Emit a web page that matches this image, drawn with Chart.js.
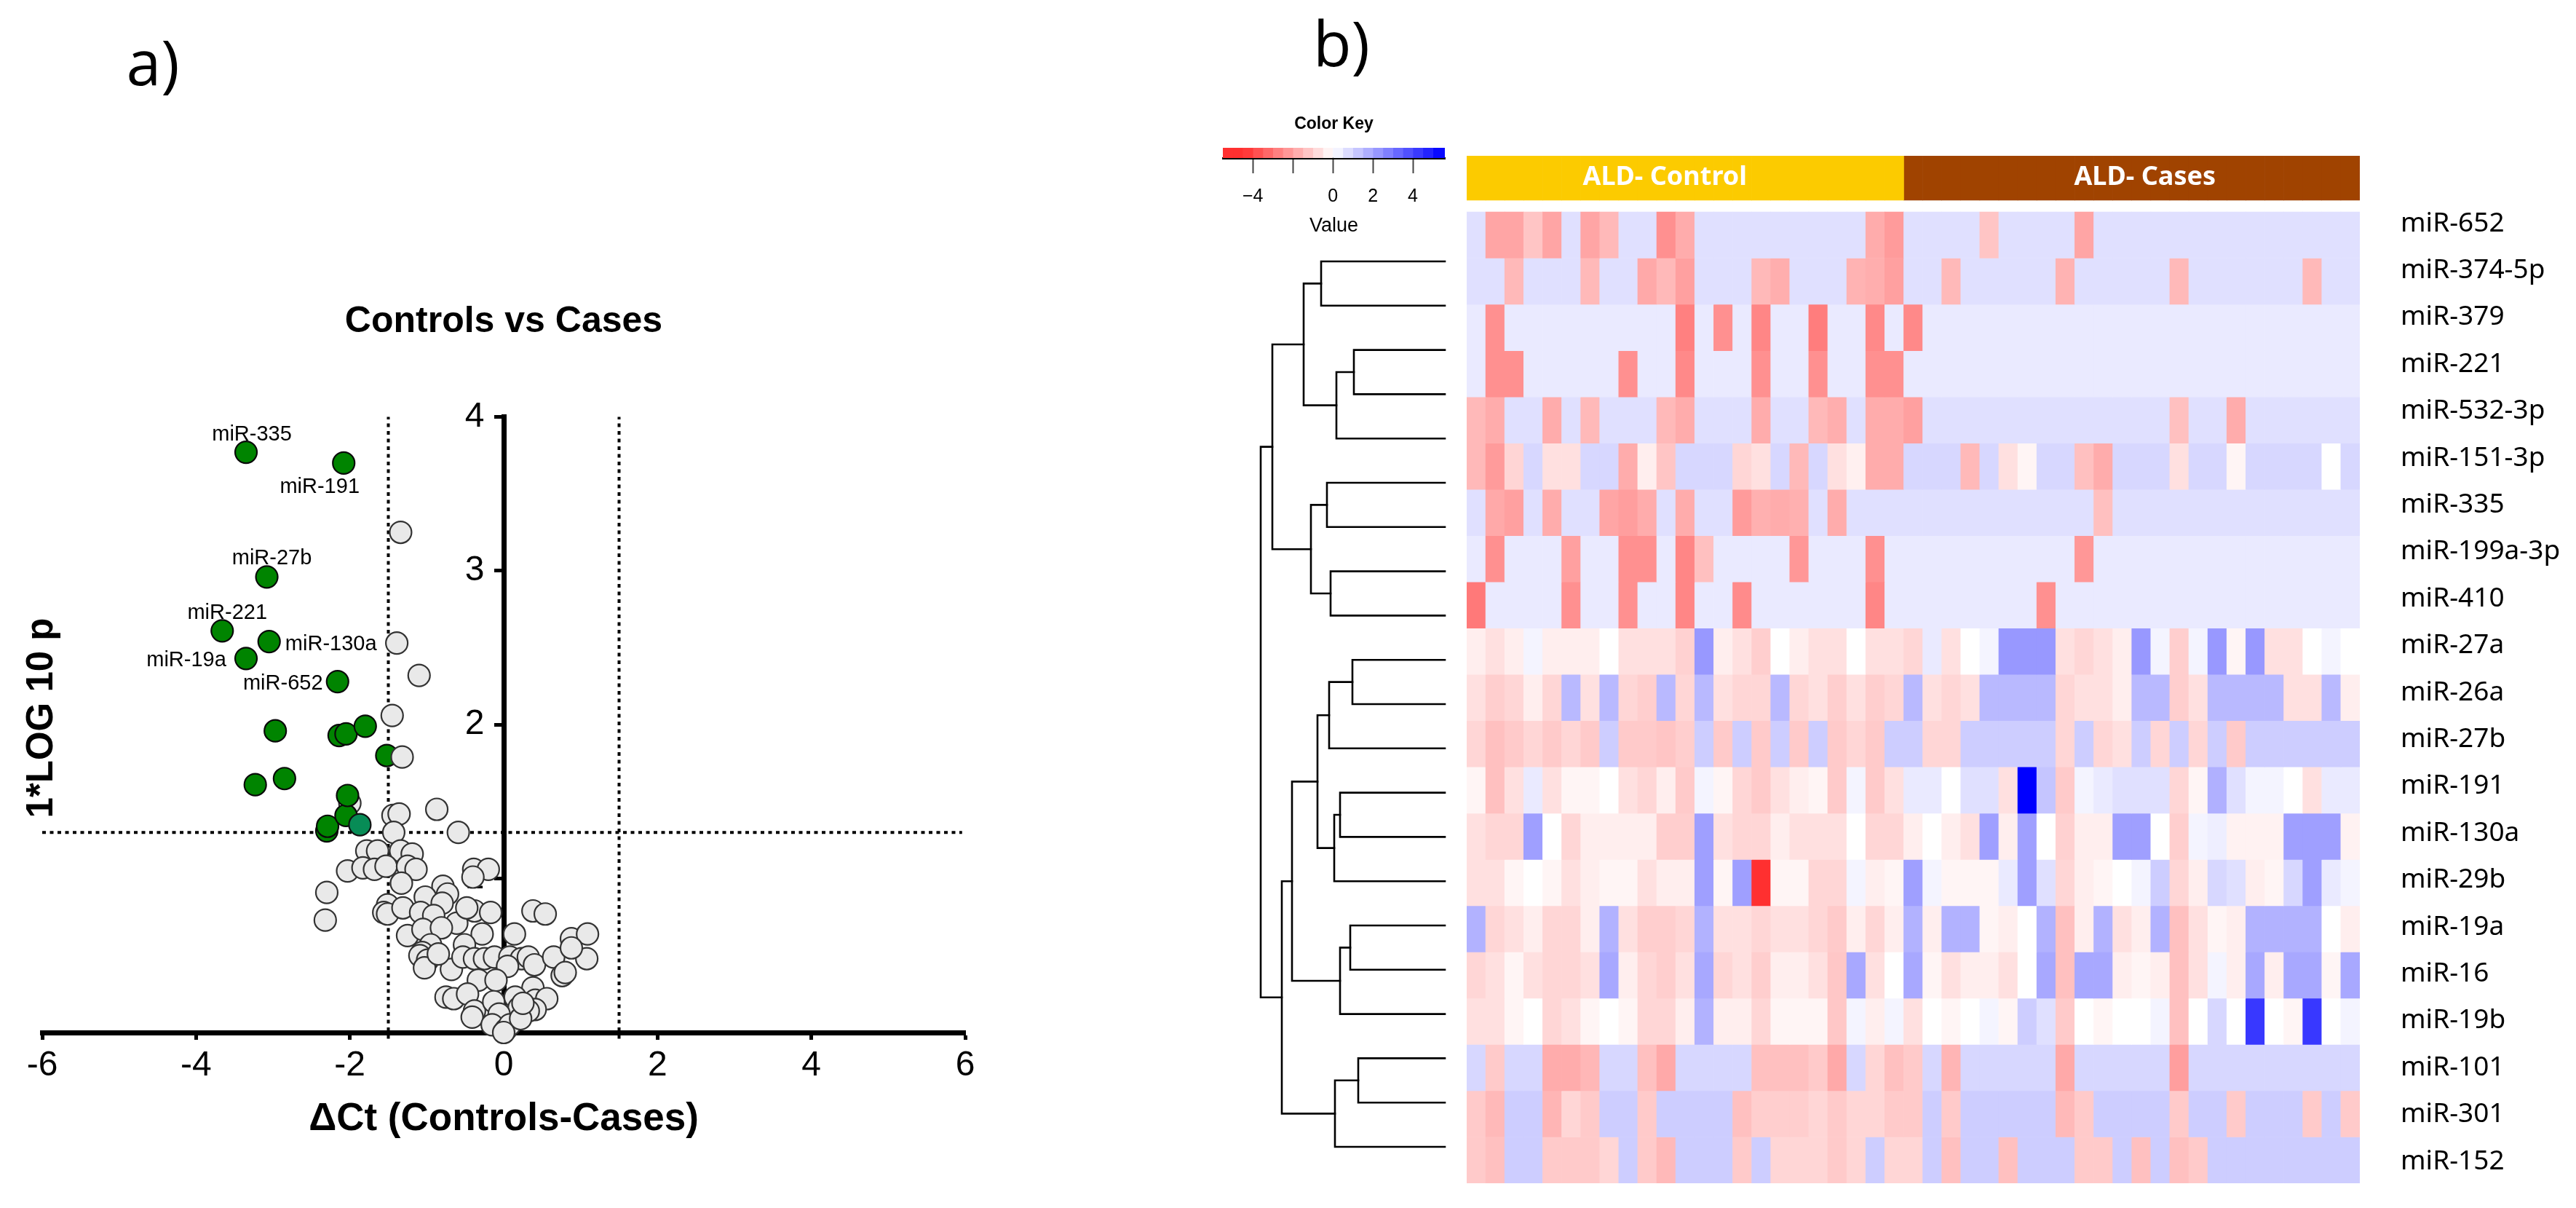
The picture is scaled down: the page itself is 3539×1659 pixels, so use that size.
<!DOCTYPE html>
<html>
<head>
<meta charset="utf-8">
<script src="https://cdn.jsdelivr.net/npm/chart.js@4"></script>
<style>
html,body{margin:0;padding:0;background:#fff;width:3539px;height:1659px;overflow:hidden}
canvas{position:absolute}
.t{position:absolute;color:#000;white-space:nowrap;transform:translate(-50%,-50%)}
</style>
</head>
<body>
<div class="t" style="left:210px;top:83px;font:86px 'Open Sans'">a)</div>
<div class="t" style="left:1843px;top:57px;font:86px 'Open Sans'">b)</div>
<div class="t" style="left:54px;top:986px;font:bold 51px 'Liberation Sans';transform:translate(-50%,-50%) rotate(-90deg)">1*LOG 10 p</div>
<canvas id="volcano" width="1500" height="1659" style="left:0;top:0"></canvas>
<canvas id="key" width="385" height="190" style="left:1640px;top:150px"></canvas>
<canvas id="dendro" width="345" height="1256" style="left:1660px;top:339px"></canvas>
<canvas id="heat" width="1524" height="1471" style="left:2015px;top:184px"></canvas>
<script>
/* ---------- panel a: values ---------- */
const grayX = [-1.34,-1.39,-1.10,-1.45,-2.0,-1.44,-1.36,-.87,-.59,-1.43,-1.78,-1.64,-1.34,-1.19,-2.03,-1.83,-1.68,-1.53,-1.25,-1.14,-1.33,-.39,-.2,-.4,-2.30,-2.32,-.79,-.73,-1.02,-.80,-1.51,-1.56,-1.51,-1.31,-1.08,-.91,-.61,-.38,-.17,-.48,-.28,.14,.38,.54,-1.25,-1.05,-.81,-.95,-.51,-1.06,-1.09,-.99,-1.03,-.68,-.85,-.53,-.38,-.25,-.12,.08,.23,.32,.40,.05,.65,.88,1.09,1.08,.76,.8,.88,-.33,-.10,.38,-.75,-.65,-.47,-.38,-.41,-.13,.15,.41,.56,.2,.41,.32,-.06,-.15,0.03,.08,.22,.25,0];
const grayY = [3.25,2.53,2.32,2.06,1.49,1.41,1.42,1.45,1.30,1.30,1.18,1.18,1.18,1.16,1.05,1.07,1.06,1.08,1.08,1.06,.97,1.06,1.06,1.01,.91,.73,.95,.90,.88,.84,.83,.78,.77,.81,.78,.76,.71,.79,.78,.81,.64,.64,.79,.77,.63,.67,.68,.57,.57,.52,.50,.47,.42,.41,.51,.49,.48,.48,.49,.49,.48,.49,.44,.43,.49,.61,.64,.48,.37,.39,.55,.34,.34,.29,.23,.22,.25,.14,.10,.20,.23,.21,.22,.16,.15,.14,.12,.05,.02,.05,.09,.19,0];
const greenX = [-3.35,-2.08,-3.08,-3.66,-3.05,-3.35,-2.16,-2.97,-1.80,-2.05,-2.14,-1.52,-2.85,-3.23,-2.03,-2.05,-2.29,-2.30];
const greenY = [3.77,3.70,2.96,2.61,2.54,2.43,2.28,1.96,1.99,1.94,1.93,1.80,1.65,1.61,1.54,1.41,1.34,1.31];
const tealX = [-1.87];
const tealY = [1.35];
const overX = [-1.32];
const overY = [1.79];
const labelNames = ['miR-335','miR-191','miR-27b','miR-221','miR-130a','miR-19a','miR-652'];
const thresholdP = 1.3;
const thresholdCt = 1.5;

/* ---------- panel b: rows of the heat map, top to bottom ---------- */
const rowNames = ['miR-652','miR-374-5p','miR-379','miR-221','miR-532-3p','miR-151-3p','miR-335','miR-199a-3p','miR-410','miR-27a','miR-26a','miR-27b','miR-191','miR-130a','miR-29b','miR-19a','miR-16','miR-19b','miR-101','miR-301','miR-152'];
const r652 = [.67,-1.95,-1.95,-1.25,-1.95,.67,-1.95,-1.5,.67,.67,-2.4,-1.8,.67,.67,.67,.67,.67,.67,.67,.67,.67,-1.8,-2.15,.67,.67,.67,.67,-1.25,.67,.67,.67,.67,-1.95,.67,.67,.67,.67,.67,.67,.67,.67,.67,.67,.67,.67,.67,.67];
const r374 = [.67,.67,-1.5,.67,.67,.67,-1.5,.67,.67,-1.85,-1.5,-2.05,.67,.67,.67,-1.5,-1.75,.67,.67,.67,-1.65,-1.75,-2.05,.67,.67,-1.5,.67,.67,.67,.67,.67,-1.65,.67,.67,.67,.67,.67,-1.5,.67,.67,.67,.67,.67,.67,-1.5,.67,.67];
const r379 = [.45,-2.4,.45,.45,.45,.45,.45,.45,.45,.45,.45,-2.75,.45,-2.4,.45,-2.6,.45,.45,-2.8,.45,.45,-2.55,.45,-2.55,.45,.45,.45,.45,.45,.45,.45,.45,.45,.45,.45,.45,.45,.45,.45,.45,.45,.45,.45,.45,.45,.45,.45];
const r221 = [.45,-2.4,-2.4,.45,.45,.45,.45,.45,-2.4,.45,.45,-2.55,.45,.45,.45,-2.4,.45,.45,-2.4,.45,.45,-2.4,-2.4,.45,.45,.45,.45,.45,.45,.45,.45,.45,.45,.45,.45,.45,.45,.45,.45,.45,.45,.45,.45,.45,.45,.45,.45];
const r532 = [-1.5,-1.8,.67,.67,-1.8,.67,-1.5,.67,.67,.67,-1.5,-1.8,.67,.67,.67,-1.8,.67,.67,-1.5,-1.75,.67,-1.8,-1.8,-2.05,.67,.67,.67,.67,.67,.67,.67,.67,.67,.67,.67,.67,.67,-1.35,.67,.67,-1.8,.67,.67,.67,.67,.67,.67];
const r151 = [-1.5,-2.15,-.9,.87,-.67,-.67,.87,.87,-1.8,-.37,-1.25,.87,.87,.87,-.88,-.67,.87,-1.5,.87,-.67,-.32,-1.8,-1.8,.87,.87,.87,-1.5,.87,-.67,-.22,.87,.87,-1.36,-1.8,.87,.87,.87,-.67,.87,.87,-.22,.87,.87,.87,.87,0,.87];
const r335 = [.67,-1.85,-2.05,.67,-1.8,.67,.67,-1.95,-2.1,-1.8,.67,-1.8,.67,.67,-2.15,-1.7,-1.8,-1.7,.67,-1.8,.67,.67,.67,.67,.67,.67,.67,.67,.67,.67,.67,.67,.67,-1.36,.67,.67,.67,.67,.67,.67,.67,.67,.67,.67,.67,.67,.67];
const r199 = [.45,-2.4,.45,.45,.45,-2.05,.45,.45,-2.4,-2.4,.45,-2.6,-1.36,.45,.45,.45,.45,-2.25,.45,.45,.45,-2.4,.45,.45,.45,.45,.45,.45,.45,.45,.45,.45,-2.25,.45,.45,.45,.45,.45,.45,.45,.45,.45,.45,.45,.45,.45,.45];
const r410 = [-2.9,.45,.45,.45,.45,-2.4,.45,.45,-2.4,.45,.45,-2.6,.45,.45,-2.5,.45,.45,.45,.45,.45,.45,-2.6,.45,.45,.45,.45,.45,.45,.45,.45,-2.4,.45,.45,.45,.45,.45,.45,.45,.45,.45,.45,.45,.45,.45,.45,.45,.45];
const r27a = [-.37,-.67,-.37,.24,-.37,-.37,-.37,0,-.67,-.67,-.67,-1,2.22,-.37,-.67,-1.05,0,-.37,-.67,-.67,0,-.67,-.67,-.88,.45,-.67,0,.24,2.22,2.22,2.22,-.67,-.88,-.67,-.37,2.22,.24,-1.05,.24,2.22,-.22,2.22,-.67,-.67,0,.24,0];
const r26a = [-.67,-1.05,-.88,-.37,-.88,1.5,-.67,1.5,-.88,-1.05,1.5,-.88,1.5,-.67,-.88,-.88,1.5,-.88,-.67,-1.05,-.67,-1.05,-.88,1.5,-.67,-.88,-.67,1.5,1.5,1.5,1.5,-.88,-.67,-.67,-.37,1.5,1.5,-1.05,-.67,1.5,1.5,1.5,1.5,-.67,-.67,1.5,-.37];
const r27b = [-.88,-1.36,-1.14,-.88,-1.14,-.88,-1.14,1.08,-1.14,-1.14,-1.25,-1.05,1.08,-1.14,1.08,-1.14,1.08,-1.14,1.08,-1.14,-.88,-1.14,1.08,1.08,-.88,-.88,1.08,1.08,1.08,1.08,1.08,-.88,1.08,-.88,-.67,1.08,-.88,1.08,-.88,1.08,-1.14,1.08,1.08,1.08,1.08,1.08,1.08];
const r191 = [-.22,-1.36,-.67,.45,-.67,-.22,-.22,0,-.67,-.88,-.37,-1.14,.24,-.22,-.88,-1.14,-.67,-.37,-.22,-1.14,.24,-1.14,-.67,.45,.45,0,.67,.67,-.67,5.5,1.25,-1.14,.24,.45,.67,.67,.67,-.88,-.22,1.7,.67,.24,.24,0,-.67,.45,.45];
const r130 = [-.67,-.88,-.88,2.07,0,-.88,-.37,-.37,-.37,-.37,-1.05,-1.05,2.07,-.67,-.88,-.88,-.37,-.67,-.67,-.67,0,-.88,-.88,-.37,0,-.37,-.67,2.07,-.37,2.07,0,-1,-.37,-.37,2.07,2.07,0,-1.05,.24,.37,-.28,-.28,-.28,2.07,2.07,2.07,-.28];
const r29b = [-.67,-.67,-.22,0,-.22,-.67,-.37,-.22,-.22,-.67,-.37,-.37,2.07,-.22,2.07,-4.46,-.22,-.22,-.88,-.88,.24,-.37,-.22,2.07,.24,-.22,-.22,-.22,.45,2.07,.67,-.88,-.37,-.22,0,.24,1.08,-.88,-.37,.87,.67,-.37,-.22,.87,2.07,.45,.24];
const r19a = [1.66,-.88,-.67,-.37,-.88,-.88,-.37,1.66,-.67,-1.05,-1.05,-.88,1.66,-.67,-.67,-.88,-.67,-.67,-.88,-1.14,-.37,-.88,-.37,1.66,-.37,1.66,1.66,-.22,-.37,0,1.66,-1.36,-.37,1.66,-.67,-.37,1.66,-1.36,-.67,-.22,-.37,1.66,1.66,1.66,1.66,0,-.37];
const r16 = [-.88,-.67,-.22,-.67,-.88,-.88,-.67,1.88,-.37,-.88,-1.05,-.67,1.88,-.88,-.67,-1.05,-.37,-.37,-.67,-1.2,1.88,-.67,0,1.88,-.22,-.67,-.37,-.37,-.67,0,1.88,-1.36,1.88,1.88,-.37,-.22,-.37,-1.36,-.67,.24,-.37,1.88,-.37,1.88,1.88,-.22,1.88];
const r19b = [-.67,-.67,-.22,0,-.88,-.67,-.22,0,-.22,-.88,-.88,-.37,1.66,-.37,-.37,-.88,-.22,-.22,-.22,-1.2,.24,-.37,.24,-.67,0,-.22,0,.24,-.22,1.08,.67,-1.14,0,-.22,0,0,.24,-1.36,0,.87,0,4.29,0,-.22,4.29,0,.24];
const r101 = [.87,-1.14,.87,.87,-1.8,-1.8,-1.55,.87,.87,-1.36,-1.85,.87,.87,.87,.87,-1.36,-1.36,-1.36,-1.14,-1.85,.87,-.88,-1.36,-1.14,.87,-1.6,.87,.87,.87,.87,.87,-1.85,.87,.87,.87,.87,.87,-2.1,.87,.87,.87,.87,.87,.87,.87,.87,.87];
const r301 = [-1.14,-1.5,1.08,1.08,-1.6,-.88,-1.14,1.08,1.08,-1.14,1.08,1.08,1.08,1.08,-1.36,-1.05,-1.05,-1.05,-.88,-1.14,-.88,-.88,-1.14,-1.14,1.08,-1.14,1.08,1.08,1.08,1.08,1.08,-1.5,-1.14,1.08,1.08,1.08,1.08,-1.14,1.08,1.08,-1.14,1.08,1.08,1.08,-1.14,1.08,-1.14];
const r152 = [-1.14,-1.36,1.08,1.08,-1.14,-1.14,-1.14,-.88,1.08,-1.14,-1.5,1.08,1.08,1.08,-1.14,1.08,-.88,-.88,-.88,-1.14,-.88,1.08,-.88,-.88,1.08,-1.36,1.08,1.08,-1.36,1.08,1.08,1.08,-1.14,-1.14,1.08,-1.36,1.08,-1.36,-1.14,1.08,1.08,1.08,1.08,1.08,1.08,1.08,1.08];
const heatRows = [r652,r374,r379,r221,r532,r151,r335,r199,r410,r27a,r26a,r27b,r191,r130,r29b,r19a,r16,r19b,r101,r301,r152];
const groupNames = ['ALD- Control','ALD- Cases'];
const groupSizes = [23,24];

/* ---------- colour key and dendrogram ---------- */
const keyEdges = [-5.5,-5,-4.5,-4,-3.5,-3,-2.5,-2,-1.5,-1,-.5,0,.5,1,1.5,2,2.5,3,3.5,4,4.5,5,5.6];
const keyTicks = [-4,-2,0,2,4];
const keyTickLabels = ['\u22124','','0','2','4'];
/* each merge: [childA, childB, height]; a child >= 0 is a leaf row, a child < 0 is merge number -child-1 */
const dendroMerges = [[0,1,1.70],[2,3,1.25],[-2,4,1.49],[-1,-3,1.94],[5,6,1.62],[7,8,1.57],[-5,-6,1.84],[-4,-7,2.37],[9,10,1.27],[-9,11,1.59],[12,13,1.44],[-11,14,1.52],[-10,-12,1.75],[15,16,1.30],[-14,17,1.44],[-13,-15,2.10],[18,19,1.19],[-17,20,1.51],[-16,-18,2.24],[-8,-19,2.53]];

/* ---------- helpers ---------- */
Chart.defaults.animation = false;
Chart.defaults.responsive = false;
Chart.defaults.devicePixelRatio = 1;
Chart.defaults.plugins.legend.display = false;
Chart.defaults.plugins.tooltip.enabled = false;
const zip = (xs, ys) => xs.map((x, i) => ({x, y: ys[i]}));
function heatColor(v){
  const t = Math.min(Math.abs(v) / 5.5, 1);
  const lim = v < 0 ? Math.min(t, .81) : t;
  const c = Math.round(255 * (1 - lim));
  return v < 0 ? `rgb(255,${c},${c})` : `rgb(${c},${c},255)`;
}

/* ---------- panel a ---------- */
const labelOffsets = [[8,-24],[-33,33],[7,-25],[7,-24],[85,4],[-82,3],[-75,3]];
const pointLabels = {
  id:'pointLabels',
  afterDatasetsDraw(c){
    const g = c.ctx; g.save();
    g.font = "29px 'Liberation Sans'"; g.fillStyle = '#000'; g.textAlign = 'center'; g.textBaseline = 'middle';
    labelNames.forEach((n, i) => {
      g.fillText(n, c.scales.x.getPixelForValue(greenX[i]) + labelOffsets[i][0], c.scales.y.getPixelForValue(greenY[i]) + labelOffsets[i][1]);
    });
    g.restore();
  }
};
const dotted = (data) => ({data, showLine:true, pointRadius:0, borderColor:'#000', borderWidth:4, borderDash:[5,5.5], order:9, clip:false});
const pts = (data, fill, stroke, order) => ({data, showLine:false, pointRadius:15, backgroundColor:fill, borderColor:stroke, borderWidth:2.2, order, clip:false});
new Chart(document.getElementById('volcano'), {
  type:'scatter',
  data:{datasets:[
    pts(zip(overX, overY), '#e9e9e9', '#333', 1),
    pts(zip(tealX, tealY), '#078c56', '#111', 2),
    pts(zip(greenX, greenY).reverse(), '#008400', '#0a0a0a', 3),
    pts(zip(grayX, grayY), '#e9e9e9', '#333', 4),
    dotted([{x:-6,y:thresholdP},{x:5.96,y:thresholdP}]),
    dotted([{x:-thresholdCt,y:-.04},{x:-thresholdCt,y:4}]),
    dotted([{x:thresholdCt,y:-.04},{x:thresholdCt,y:4}])
  ]},
  options:{
    layout:{padding:{left:58,right:174,top:0,bottom:0}},
    plugins:{title:{display:true,fullSize:false,text:'Controls vs Cases',color:'#000',font:{family:'Liberation Sans',size:50,weight:'bold',lineHeight:1},padding:{top:417,bottom:105.5}}},
    scales:{
      x:{type:'linear',min:-6,max:6,position:'bottom',
        afterFit:s=>{s.height=241},
        border:{color:'#000',width:7},
        grid:{drawOnChartArea:false,tickLength:10,tickWidth:5,tickColor:'#000'},
        ticks:{stepSize:2,color:'#000',font:{family:'Liberation Sans',size:48},padding:7,maxRotation:0,callback:v=>String(v)},
        title:{display:true,text:'\u0394Ct (Controls-Cases)',color:'#000',font:{family:'Liberation Sans',size:53,weight:'bold',lineHeight:1.2},padding:{top:0,bottom:90}}
      },
      y:{type:'linear',min:0,max:4,position:{x:0},
        afterFit:s=>{s.width=0},
        border:{color:'#000',width:7},
        grid:{drawOnChartArea:false,tickLength:10,tickWidth:5,tickColor:'#000'},
        ticks:{stepSize:1,color:'#000',font:{family:'Liberation Sans',size:48},padding:6,callback:v=>v===0?'':v+'  '}
      }
    }
  },
  plugins:[pointLabels]
});

/* ---------- colour key ---------- */
new Chart(document.getElementById('key'), {
  type:'bar',
  data:{labels:['key'],datasets:keyEdges.slice(0,-1).map((lo,i)=>({
    data:[[lo,keyEdges[i+1]]],grouped:false,barPercentage:1,categoryPercentage:1,
    backgroundColor:heatColor((lo+keyEdges[i+1])/2)
  }))},
  options:{
    indexAxis:'y',
    layout:{padding:{left:40,right:40,top:0,bottom:0}},
    plugins:{title:{display:true,fullSize:false,text:'Color Key',color:'#000',font:{family:'Liberation Sans',size:23,weight:'bold',lineHeight:1},padding:{top:9,bottom:21}}},
    scales:{
      y:{display:false},
      x:{type:'linear',min:-5.5,max:5.6,position:'bottom',
        afterBuildTicks:s=>{s.ticks=keyTicks.map(value=>({value}))},
        afterFit:s=>{s.height=123},
        border:{color:'#000',width:3},
        grid:{drawOnChartArea:false,tickLength:21,tickWidth:2,tickColor:'#444'},
        ticks:{color:'#000',autoSkip:false,maxRotation:0,font:{family:'Liberation Sans',size:25},padding:17,callback:(v,i)=>keyTickLabels[i]},
        title:{display:true,text:'Value',color:'#000',font:{family:'Liberation Sans',size:27,lineHeight:1.2},padding:{top:0,bottom:13}}
      }
    }
  }
});

/* ---------- dendrogram ---------- */
const nodePos = [];
const dendroSets = [];
const childPos = k => k >= 0 ? {y:k,h:0} : nodePos[-k-1];
dendroMerges.forEach(([a,b,h]) => {
  const A = childPos(a), B = childPos(b);
  dendroSets.push({data:[{x:A.h,y:A.y},{x:h,y:A.y},{x:h,y:B.y},{x:B.h,y:B.y}],showLine:true,pointRadius:0,borderColor:'#000',borderWidth:2.6,borderCapStyle:'square',clip:false});
  nodePos.push({y:(A.y+B.y)/2,h});
});
new Chart(document.getElementById('dendro'), {
  type:'scatter',
  data:{datasets:dendroSets},
  options:{
    layout:{padding:{left:20,right:20,top:20,bottom:20}},
    scales:{
      x:{display:false,type:'linear',min:0,max:3.05,reverse:true},
      y:{display:false,type:'linear',min:0,max:20,reverse:true}
    }
  }
});

/* ---------- heat map with group band ---------- */
const columns = heatRows[0].map((_,j)=>j);
const bandTop = -1.212, bandBottom = -.252;
const heatSets = heatRows.map((row,i)=>({
  data:row.map((v,j)=>({x:j,y:[i,i+1],v})),
  grouped:false,barPercentage:1,categoryPercentage:1,
  backgroundColor:c=>heatColor(c.raw.v)
}));
const groupColors = ['#fccb00','#a04300'];
let gStart = 0;
groupSizes.forEach((n,g)=>{
  const data = columns.slice(gStart,gStart+n).map(j=>({x:j,y:[bandTop,bandBottom]}));
  heatSets.push({data,grouped:false,barPercentage:1,categoryPercentage:1,backgroundColor:groupColors[g]});
  gStart += n;
});
const bandOffsets = [-28,18];
const bandLabels = {
  id:'bandLabels',
  afterDatasetsDraw(c){
    const g = c.ctx; g.save();
    g.font = "bold 36px 'Noto Sans'"; g.fillStyle = '#fff'; g.textAlign = 'center'; g.textBaseline = 'middle';
    let s = 0;
    groupNames.forEach((n,k)=>{
      const mid = c.scales.x.getPixelForValue(s + (groupSizes[k]-1)/2);
      g.fillText(n, mid + bandOffsets[k], (c.scales.y.getPixelForValue(bandTop)+c.scales.y.getPixelForValue(bandBottom))/2 - 1);
      s += groupSizes[k];
    });
    g.restore();
  }
};
new Chart(document.getElementById('heat'), {
  type:'bar',
  data:{labels:columns,datasets:heatSets},
  options:{
    layout:{padding:{left:0,right:0,top:30,bottom:30}},
    scales:{
      x:{display:false,type:'category',offset:true},
      y:{display:false,type:'linear',min:bandTop,max:21,reverse:true},
      rows:{type:'linear',axis:'y',position:'right',reverse:true,min:-1.444,max:20.466,
        afterBuildTicks:s=>{s.ticks=rowNames.map((_,i)=>({value:i}))},
        afterFit:s=>{s.width=297;s.paddingTop=0;s.paddingBottom=0},
        border:{display:false},
        grid:{display:false,drawTicks:false},
        ticks:{autoSkip:false,color:'#000',font:{family:'Noto Sans',size:37},padding:56,callback:(v,i)=>rowNames[i]}
      }
    }
  },
  plugins:[bandLabels]
});
</script>
</body>
</html>
